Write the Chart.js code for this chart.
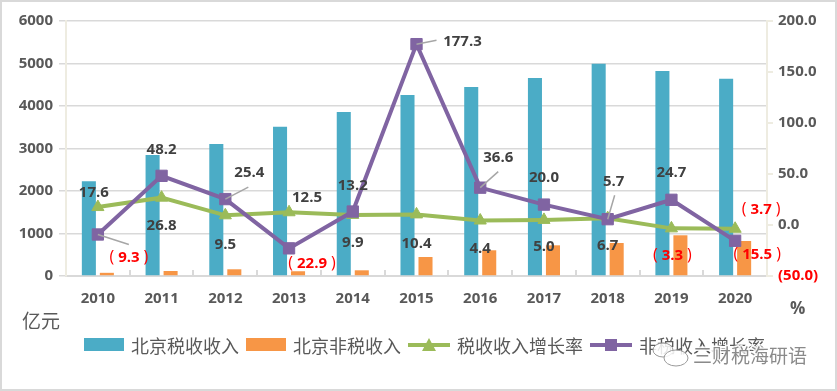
<!DOCTYPE html>
<html>
<head>
<meta charset="utf-8">
<title>北京税收与非税收入</title>
<script src="https://cdn.jsdelivr.net/npm/chart.js@4.4.1/dist/chart.umd.min.js"></script>
<style>
  html, body { margin: 0; padding: 0; background: #fff; }
</style>
</head>
<body>
<canvas id="chart" width="837" height="391"></canvas>
<script>
// 数据：北京税收 / 非税收入（亿元）及增长率（%）
const years = ['2010', '2011', '2012', '2013', '2014', '2015', '2016', '2017', '2018', '2019', '2020'];
const taxRevenue = [2228, 2845, 3105, 3510, 3860, 4260, 4450, 4660, 4995, 4825, 4640];
const nonTaxRevenue = [75, 118, 158, 112, 134, 447, 605, 722, 776, 958, 824];
const taxGrowth = [17.6, 26.8, 9.5, 12.5, 9.9, 10.4, 4.4, 5.0, 6.7, -3.3, -3.7];
const nonTaxGrowth = [-9.3, 48.2, 25.4, -22.9, 13.2, 177.3, 36.6, 20.0, 5.7, 24.7, -15.5];
const seriesNames = ['北京税收收入', '北京非税收入', '税收收入增长率', '非税收入增长率'];
const leftAxis = [0, 6000, 1000];   // min, max, step
const rightAxis = [-50, 200, 50];
const leftUnit = '亿元';
const rightUnit = '%';
const watermark = '三财税海研语';

const GRAY = '#595959';
const RED = '#ff0000';
const NUM_FONT = 'bold 15px "Open Sans", sans-serif';
const PAREN_FONT = '16px "Open Sans", sans-serif';
const TICK_FONT = { family: '"Open Sans", "Noto Sans CJK SC", sans-serif', size: 15, weight: 'bold' };

// 负数用括号表示
function fmt(v) {
    const s = Math.abs(v).toFixed(1);
    return v < 0 ? '(' + s + ')' : s;
}

// 数据标签：负数用带空隙的括号（仿全角括号），居中于 (x, y)
function drawValue(c, v, x, y) {
    const s = Math.abs(v).toFixed(1);
    c.textAlign = 'left';
    c.textBaseline = 'middle';
    if (v >= 0) {
        c.font = NUM_FONT;
        c.fillStyle = '#404040';
        c.fillText(s, x - c.measureText(s).width / 2, y);
        return;
    }
    const gap = 4;
    c.fillStyle = RED;
    c.font = PAREN_FONT;
    const pw = c.measureText('(').width;
    c.font = NUM_FONT;
    const nw = c.measureText(s).width;
    const x0 = x - (pw * 2 + nw + gap * 2) / 2;
    c.font = PAREN_FONT;
    c.fillText('(', x0, y);
    c.fillText(')', x0 + pw + gap + nw + gap, y);
    c.font = NUM_FONT;
    c.fillText(s, x0 + pw + gap, y);
}

// 数据标签位置（相对数据点的偏移）和引导线
const labelOffsets = {
    2: [[-4, -14], [0, 28], [0, 29], [18, -15], [0, 28], [0, 29], [0, 28], [0, 27], [0, 28], [1, 27], [26, -19]],
    3: [[31, 23], [0, -26], [24, -26], [23, 15], [0, -26], [46, -2], [18, -30], [0, -27], [6, -37], [0, -27], [22, 14]]
};
const leaders = {
    3: { 0: [31, 10], 2: [23, -12], 5: [20, -4], 6: [18, -16], 8: [7, -24] }
};

const overlay = {
    id: 'overlay',
    beforeDraw(chart) {
        const c = chart.ctx;
        c.save();
        c.fillStyle = '#fff';
        c.fillRect(0, 0, chart.width, chart.height);
        c.restore();
    },
    afterDatasetsDraw(chart) {
        const c = chart.ctx;
        c.save();
        [2, 3].forEach(di => {
            const meta = chart.getDatasetMeta(di);
            const data = chart.data.datasets[di].data;
            meta.data.forEach((pt, i) => {
                const off = labelOffsets[di][i];
                const ld = (leaders[di] || {})[i];
                if (ld) {
                    c.strokeStyle = '#a6a6a6';
                    c.lineWidth = 1.5;
                    c.beginPath();
                    c.moveTo(pt.x, pt.y);
                    c.lineTo(pt.x + ld[0], pt.y + ld[1]);
                    c.stroke();
                }
                drawValue(c, data[i], pt.x + off[0], pt.y + off[1]);
            });
        });
        c.restore();
    },
    afterDraw(chart) {
        const c = chart.ctx;
        const ds = chart.data.datasets;
        c.save();

        // 图例
        const ly = 345;
        let x = 84;
        c.font = '18px "Noto Sans CJK SC", sans-serif';
        c.textBaseline = 'middle';
        c.textAlign = 'left';
        ds.forEach(d => {
            if (d.type === 'bar') {
                c.fillStyle = d.backgroundColor;
                c.fillRect(x, ly - 7, 40, 13);
                x += 40;
            } else {
                c.strokeStyle = d.borderColor;
                c.fillStyle = d.borderColor;
                c.lineWidth = 4;
                c.beginPath();
                c.moveTo(x, ly);
                c.lineTo(x + 42, ly);
                c.stroke();
                const cx = x + 21;
                c.beginPath();
                if (d.pointStyle === 'triangle') {
                    c.moveTo(cx, ly - 7);
                    c.lineTo(cx + 7, ly + 6);
                    c.lineTo(cx - 7, ly + 6);
                    c.closePath();
                } else {
                    c.rect(cx - 6, ly - 6, 12, 12);
                }
                c.fill();
                x += 42;
            }
            x += 7;
            c.fillStyle = GRAY;
            c.fillText(d.label, x, ly + 1);
            x += c.measureText(d.label).width + 7;
        });

        // 单位
        c.font = '19px "Noto Sans CJK SC", sans-serif';
        c.fillStyle = GRAY;
        c.fillText(leftUnit, 22, 321);
        c.font = 'bold 17px "Open Sans", sans-serif';
        c.fillText(rightUnit, 790, 309);

        // 水印
        c.strokeStyle = '#9a9a9a';
        c.lineWidth = 1;
        c.fillStyle = 'rgba(255,255,255,0.85)';
        c.beginPath();
        c.ellipse(663, 350, 10, 7, 0, 0, Math.PI * 2);
        c.fill();
        c.stroke();
        c.beginPath();
        c.ellipse(676, 358, 12, 8, 0, 0, Math.PI * 2);
        c.fill();
        c.stroke();
        c.font = '19px "Noto Sans CJK SC", sans-serif';
        c.lineWidth = 3;
        c.strokeStyle = 'rgba(255,255,255,0.9)';
        c.strokeText(watermark, 693, 356);
        c.fillStyle = '#8a8a8a';
        c.fillText(watermark, 693, 356);

        // 外框
        c.strokeStyle = '#d9d9d9';
        c.lineWidth = 2;
        c.strokeRect(1, 1, chart.width - 2, chart.height - 2);
        c.restore();
    }
};

const ctx = document.getElementById('chart').getContext('2d');
new Chart(ctx, {
    type: 'bar',
    data: {
        labels: years,
        datasets: [
            {
                type: 'bar', label: seriesNames[0], data: taxRevenue,
                backgroundColor: '#4bacc6', yAxisID: 'y', order: 3,
                categoryPercentage: 0.565, barPercentage: 0.78
            },
            {
                type: 'bar', label: seriesNames[1], data: nonTaxRevenue,
                backgroundColor: '#f79646', yAxisID: 'y', order: 3,
                categoryPercentage: 0.565, barPercentage: 0.78
            },
            {
                type: 'line', label: seriesNames[2], data: taxGrowth,
                borderColor: '#9bbb59', backgroundColor: '#9bbb59', borderWidth: 4,
                pointStyle: 'triangle', pointRadius: 7, pointBorderWidth: 1,
                yAxisID: 'y1', order: 1
            },
            {
                type: 'line', label: seriesNames[3], data: nonTaxGrowth,
                borderColor: '#8064a2', backgroundColor: '#8064a2', borderWidth: 4,
                pointStyle: 'rect', pointRadius: 8, pointBorderWidth: 1,
                yAxisID: 'y1', order: 0
            }
        ]
    },
    options: {
        responsive: false,
        devicePixelRatio: 1,
        animation: false,
        layout: { padding: { left: 0, right: 0, top: 21, bottom: 75 } },
        plugins: { legend: { display: false }, tooltip: { enabled: false } },
        scales: {
            x: {
                grid: { drawOnChartArea: false, color: '#d9d9d9', lineWidth: 2, tickLength: -6 },
                border: { color: '#d9d9d9', width: 2 },
                ticks: { font: TICK_FONT, color: GRAY, padding: 20, maxRotation: 0 },
                afterFit(s) { s.height = 40; }
            },
            y: {
                position: 'left',
                min: leftAxis[0], max: leftAxis[1],
                ticks: { stepSize: leftAxis[2], font: TICK_FONT, color: GRAY, padding: 6, callback: v => String(v) },
                grid: { color: '#d9d9d9', lineWidth: 1.5, tickLength: 7 },
                border: { color: '#eeece1', width: 2 },
                afterFit(s) { s.width = 66; }
            },
            y1: {
                position: 'right',
                min: rightAxis[0], max: rightAxis[1],
                ticks: {
                    stepSize: rightAxis[2], font: TICK_FONT, padding: 5,
                    color: c => (c.tick && c.tick.value < 0 ? RED : GRAY),
                    callback: v => fmt(v)
                },
                grid: { drawOnChartArea: false, color: '#eeece1', lineWidth: 2, tickLength: 6 },
                border: { color: '#eeece1', width: 2 },
                afterFit(s) { s.width = 70; }
            }
        }
    },
    plugins: [overlay]
});
</script>
</body>
</html>
